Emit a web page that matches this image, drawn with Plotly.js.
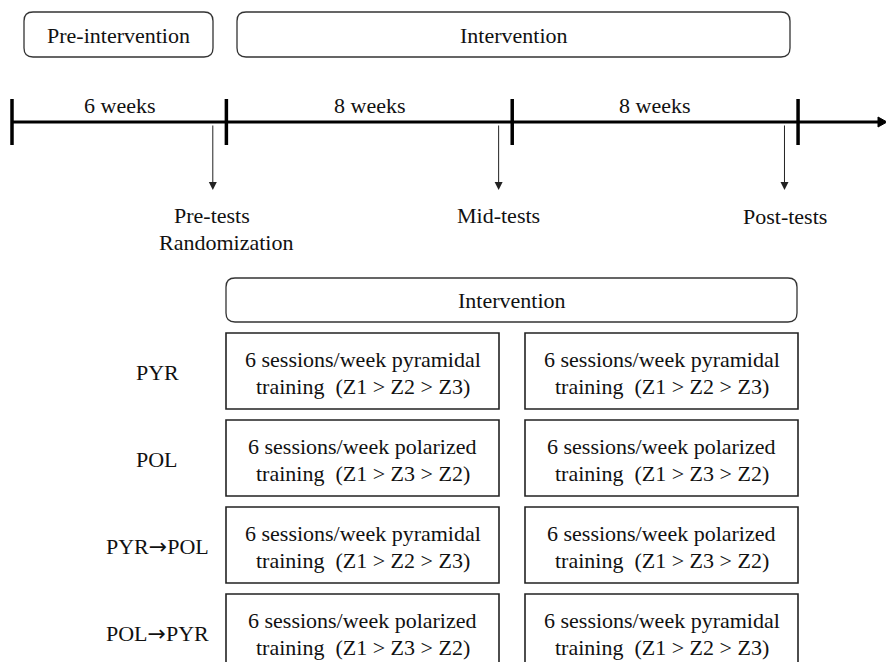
<!DOCTYPE html>
<html>
<head>
<meta charset="utf-8">
<script src="https://cdn.plot.ly/plotly-3.0.1.min.js"></script>
<style>html,body{margin:0;padding:0;background:#fff;}#chart{width:886px;height:662px;}</style>
</head>
<body>
<div id="chart"></div>
<script>
// ---- content ----
const phases = ['Pre-intervention', 'Intervention'];
const periodWeeks = [6, 8, 8];
const periodLabels = ['6 weeks', '8 weeks', '8 weeks'];
const testLabels = [['Pre-tests', 'Randomization'], ['Mid-tests'], ['Post-tests']];
const interventionHeader = 'Intervention';
const groups = ['PYR', 'POL', 'PYR→POL', 'POL→PYR'];
const block1Model = ['pyramidal', 'polarized', 'pyramidal', 'polarized'];
const block2Model = ['pyramidal', 'polarized', 'polarized', 'pyramidal'];
const zoneOrder = { pyramidal: '(Z1 > Z2 > Z3)', polarized: '(Z1 > Z3 > Z2)' };

// ---- layout helpers ----
const FONT = 'Liberation Serif';
const FS = 22;
const TXT = '#111';
const x0px = 12, pxPerWeek = 35.73;
const wk = w => x0px + w * pxPerWeek;

function rrect(x0, y0, x1, y1, r) {
  return `M${x0 + r},${y0} L${x1 - r},${y0} Q${x1},${y0} ${x1},${y0 + r} L${x1},${y1 - r} Q${x1},${y1} ${x1 - r},${y1} L${x0 + r},${y1} Q${x0},${y1} ${x0},${y1 - r} L${x0},${y0 + r} Q${x0},${y0} ${x0 + r},${y0} Z`;
}

const shapes = [];
const annotations = [];
function txt(text, x, y) {
  annotations.push({
    text: text, x: x, y: y, xref: 'x', yref: 'y', showarrow: false,
    xanchor: 'center', yanchor: 'middle',
    font: { family: FONT, size: FS, color: TXT }
  });
}

// top phase boxes
const phaseBoxes = [[24, 213], [237, 790]];
phases.forEach((p, i) => {
  const [a, b] = phaseBoxes[i];
  shapes.push({ type: 'path', path: rrect(a, 12, b, 57, 9), line: { color: '#333', width: 1.3 } });
  txt(p, (a + b) / 2, 35);
});

// timeline
const cum = [0];
periodWeeks.forEach(w => cum.push(cum[cum.length - 1] + w));
shapes.push({ type: 'line', x0: wk(0), x1: 880, y0: 122, y1: 122, line: { color: '#000', width: 3 } });
shapes.push({ type: 'path', path: 'M878,117 L887,122 L878,127 Z', fillcolor: '#000', line: { color: '#000', width: 1 } });
cum.forEach(c => {
  shapes.push({ type: 'line', x0: wk(c), x1: wk(c), y0: 99, y1: 145, line: { color: '#000', width: 3.5 } });
});
periodLabels.forEach((l, i) => {
  txt(l, (wk(cum[i]) + wk(cum[i + 1])) / 2 - (i === 2 ? 1 : 0), 105);
});

// test arrows
const testOffset = 0.38; // weeks before each boundary
testLabels.forEach((lbl, i) => {
  const x = wk(cum[i + 1] - testOffset);
  annotations.push({
    x: x, y: 190, ax: x, ay: 124, xref: 'x', yref: 'y', axref: 'x', ayref: 'y',
    showarrow: true, arrowhead: 2, arrowsize: 1.6, arrowwidth: 1, arrowcolor: '#222', text: ''
  });
});
txt(testLabels[0][0], 212, 215);
txt(testLabels[0][1], 226, 242);
txt(testLabels[1][0], 498, 215);
txt(testLabels[2][0], 785, 216);

// intervention header box
shapes.push({ type: 'path', path: rrect(226, 278, 797, 322, 9), line: { color: '#333', width: 1.3 } });
txt(interventionHeader, 511.5, 300);

// group rows
const colX = [[226, 499], [525, 798]];
const styleArrow = s => s.replace('→', '<span style="font-family:DejaVu Sans">→</span>');
groups.forEach((g, r) => {
  const top = 333 + r * 87, bot = top + 76;
  txt(styleArrow(g), 157, top + 39);
  [block1Model[r], block2Model[r]].forEach((m, c) => {
    const [a, b] = colX[c];
    shapes.push({ type: 'rect', x0: a, x1: b, y0: top, y1: bot, line: { color: '#222', width: 1.6 }, fillcolor: 'rgba(0,0,0,0)' });
    txt('6 sessions/week ' + m, (a + b) / 2, top + 26);
    txt('training  ' + zoneOrder[m], (a + b) / 2, top + 53);
  });
});

const layout = {
  width: 886, height: 662,
  margin: { l: 0, r: 0, t: 0, b: 0 },
  paper_bgcolor: '#fff', plot_bgcolor: '#fff',
  showlegend: false,
  font: { family: FONT, size: FS, color: TXT },
  xaxis: { range: [0, 886], visible: false, fixedrange: true },
  yaxis: { range: [662, 0], visible: false, fixedrange: true },
  shapes: shapes,
  annotations: annotations
};

Plotly.newPlot('chart', [], layout, { displayModeBar: false });
</script>
</body>
</html>
